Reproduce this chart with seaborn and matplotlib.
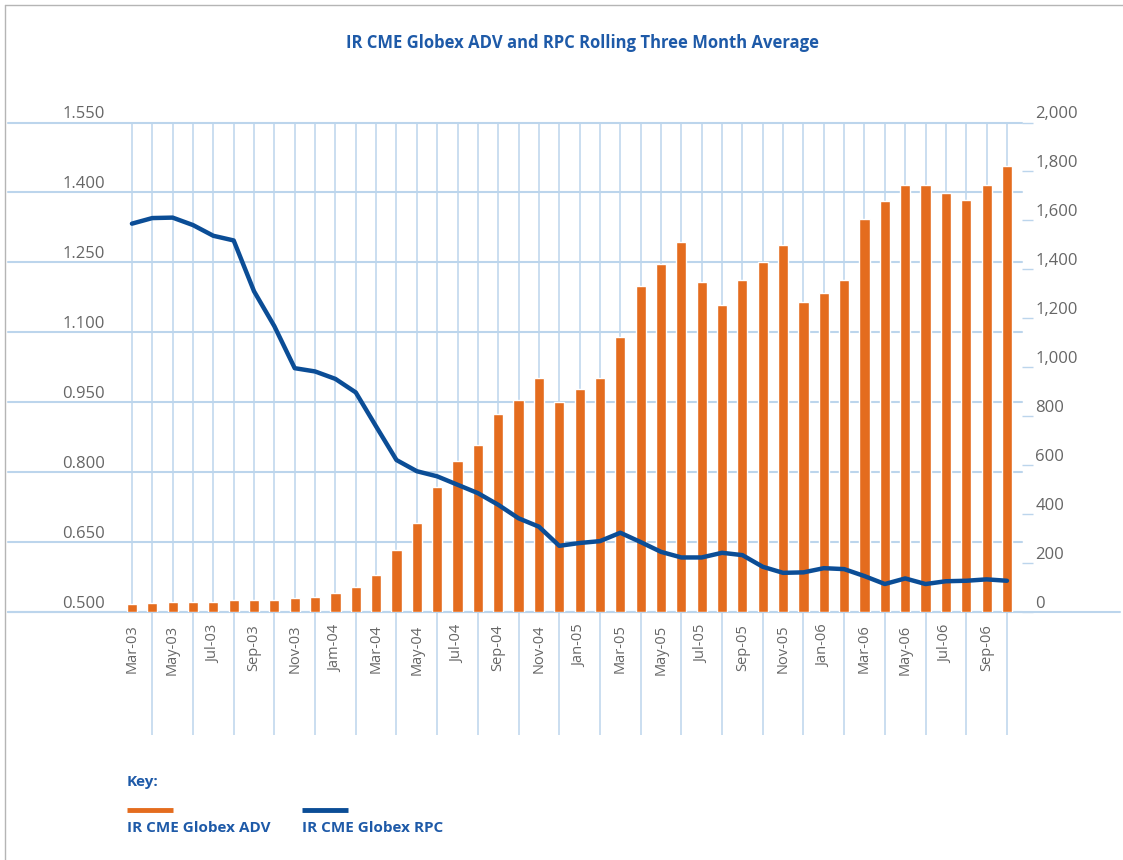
#################################################################################################################################
#   import python libraries
#################################################################################################################################
import numpy as np
import pandas as pd
import matplotlib
matplotlib.use("Agg")
import matplotlib.pyplot as plt
import seaborn as sns
from matplotlib.lines import Line2D

#################################################################################################################################
#   Data : IR CME Globex ADV (bars, right axis) and RPC (line, left axis), rolling three month average
#################################################################################################################################
months = ["Mar-03", "Apr-03", "May-03", "Jun-03", "Jul-03", "Aug-03", "Sep-03", "Oct-03", "Nov-03", "Dec-03",
          "Jan-04", "Feb-04", "Mar-04", "Apr-04", "May-04", "Jun-04", "Jul-04", "Aug-04", "Sep-04", "Oct-04",
          "Nov-04", "Dec-04", "Jan-05", "Feb-05", "Mar-05", "Apr-05", "May-05", "Jun-05", "Jul-05", "Aug-05",
          "Sep-05", "Oct-05", "Nov-05", "Dec-05", "Jan-06", "Feb-06", "Mar-06", "Apr-06", "May-06", "Jun-06",
          "Jul-06", "Aug-06", "Sep-06", "Oct-06"]

adv = [33, 37, 41, 41, 42, 49, 49, 49, 56, 61, 76, 101, 152, 252, 364,
       512, 618, 681, 808, 866, 956, 858, 910, 957,
       1125, 1332, 1422, 1512, 1350, 1253, 1358, 1429, 1500, 1266, 1305, 1357,
       1606, 1678, 1746, 1746, 1711, 1684, 1746, 1823]

rpc = [1.333, 1.345, 1.346, 1.330, 1.307, 1.297, 1.188, 1.113, 1.023, 1.016, 1.000, 0.971, 0.898, 0.826, 0.802,
       0.791, 0.773, 0.755, 0.730, 0.701, 0.683, 0.642, 0.648, 0.652,
       0.670, 0.650, 0.629, 0.617, 0.617, 0.627, 0.622, 0.597, 0.584, 0.585, 0.594, 0.592,
       0.577, 0.560, 0.572, 0.560, 0.566, 0.567, 0.570, 0.567]

tick_labels = ["Mar-03", "May-03", "Jul-03", "Sep-03", "Nov-03", "Jam-04", "Mar-04", "May-04", "Jul-04", "Sep-04",
               "Nov-04", "Jan-05", "Mar-05", "May-05", "Jul-05", "Sep-05", "Nov-05", "Jan-06", "Mar-06", "May-06",
               "Jul-06", "Sep-06"]

left_ticks = [0.500, 0.650, 0.800, 0.950, 1.100, 1.250, 1.400, 1.550]
left_labels = ["0.500", "0.650", "0.800", "0.950", "1.100", "1.250", "1.400", "1.550"]
right_ticks = [0, 200, 400, 600, 800, 1000, 1200, 1400, 1600, 1800, 2000]
right_labels = ["0", "200", "400", "600", "800", "1,000", "1,200", "1,400", "1,600", "1,800", "2,000"]

title = "IR CME Globex ADV and RPC Rolling Three Month Average"

ORANGE = "#E46C1E"
LINE_BLUE = "#0B4D96"
TEXT_BLUE = "#1E5AA8"
GRID = "#BCD5EC"
GREY = "#666666"

W, H = 1123, 860


def fx(px):
    return px / W


def fy(py):
    return 1 - py / H


#################################################################################################################################
#  function name : draw_chart
#    Description : bars + line on twin axes, grid drawn on the bottom layer
#################################################################################################################################
def draw_chart():

    sns.set_theme(style="white")
    plt.rcParams['font.family'] = ['Open Sans', 'DejaVu Sans']

    df = pd.DataFrame({"Month": months, "ADV": adv, "RPC": rpc})
    df["pos"] = np.arange(len(df))

    fig = plt.figure(figsize=(W / 100, H / 100), dpi=100)
    ax = fig.add_axes([fx(8), fy(612), fx(1014), 489.5 / H])   # grid layer (RPC scale)
    axb = ax.twinx()                                              # bars (ADV scale)
    axl = ax.twinx()                                              # line (RPC scale)

    sns.barplot(data=df, x="pos", y="ADV", ax=axb, color=ORANGE, saturation=1,
                width=0.5, native_scale=True, errorbar=None)
    sns.lineplot(data=df, x="pos", y="RPC", ax=axl, color=LINE_BLUE, linewidth=3.2)

    for a in (ax, axb, axl):
        for s in a.spines.values():
            s.set_visible(False)
        a.set_xlabel("")
        a.set_ylabel("")

    ax.set_xlim(-6.09, 43.74)
    ax.set_ylim(0.5, 1.55)
    axl.set_ylim(0.5, 1.55)
    axb.set_ylim(0, 2000)

    # vertical grid through every month, labels on every other month
    ax.set_xticks(df["pos"][::2], tick_labels)
    ax.set_xticks(df["pos"][1::2], minor=True)
    ax.grid(axis="x", which="both", color=GRID, linewidth=1.1)
    ax.tick_params(axis="x", which="both", length=0)
    ax.tick_params(axis="x", which="major", pad=9, labelsize=10.5, labelcolor=GREY, labelrotation=90)

    # separators below the axis between label groups
    ax.vlines(df["pos"][1::2], -0.2515, 0, transform=ax.get_xaxis_transform(),
              colors=GRID, linewidth=1.1, clip_on=False)

    # horizontal grid on RPC ticks
    ax.set_yticks([])
    for v, lab in zip(left_ticks, left_labels):
        ax.axhline(v, color=GRID, linewidth=1.5, clip_on=False)
        ax.text(0.0957, v, lab, transform=ax.get_yaxis_transform(), ha="right", va="bottom",
                fontsize=12, color=GREY)
    ax.axhline(0.5, xmin=0, xmax=(1120 - 8) / 1014, color=GRID, linewidth=1.5, clip_on=False)

    # right axis ticks for ADV
    axb.set_yticks(right_ticks, right_labels)
    axb.tick_params(axis="y", right=True, direction="out", length=8, width=1, color=GRID,
                    pad=1.5, labelsize=12, labelcolor=GREY)
    for t in axb.get_yticklabels():
        t.set_va("bottom")

    axl.set_yticks([])

    # title
    fig.text(fx(583), fy(43), title, ha="center", va="center", fontsize=12,
             fontweight="bold", color=TEXT_BLUE)

    # key
    fig.text(fx(127), fy(782), "Key:", ha="left", va="center", fontsize=11,
             fontweight="bold", color=TEXT_BLUE)
    fig.add_artist(Line2D([fx(127), fx(173)], [fy(810), fy(810)], color=ORANGE, linewidth=3.5,
                          solid_capstyle="butt"))
    fig.text(fx(127), fy(828), "IR CME Globex ADV", ha="left", va="center", fontsize=11,
             fontweight="bold", color=TEXT_BLUE)
    fig.add_artist(Line2D([fx(302), fx(348)], [fy(810), fy(810)], color=LINE_BLUE, linewidth=3.5,
                          solid_capstyle="butt"))
    fig.text(fx(302), fy(828), "IR CME Globex RPC", ha="left", va="center", fontsize=11,
             fontweight="bold", color=TEXT_BLUE)

    # frame on top and left
    fig.add_artist(Line2D([fx(5), fx(5)], [0, fy(5)], color="#B5B5B5", linewidth=1))
    fig.add_artist(Line2D([fx(5), 1], [fy(5), fy(5)], color="#B5B5B5", linewidth=1))

    fig.savefig("out.png", dpi=100)


def main():
    draw_chart()


if __name__ == "__main__":
    main()
